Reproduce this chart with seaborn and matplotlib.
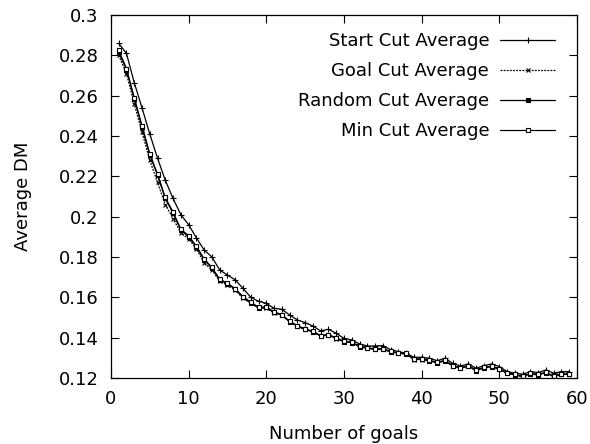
import matplotlib
matplotlib.use("Agg")
import matplotlib.pyplot as plt
import matplotlib.ticker as mticker
import seaborn as sns
import numpy as np

sns.set_style("ticks")
plt.rcParams["font.family"] = ["DejaVu Sans"]
plt.rcParams["text.color"] = "black"
plt.rcParams["axes.labelcolor"] = "black"

goals = list(range(1, 60))

start_cut = [0.286, 0.281, 0.2665, 0.254, 0.241, 0.229, 0.218, 0.209, 0.201, 0.196,
             0.1895, 0.1834, 0.180, 0.1735, 0.171, 0.1686, 0.1644, 0.160, 0.158, 0.157,
             0.1545, 0.154, 0.1512, 0.1487, 0.1474, 0.1457, 0.1433, 0.1441, 0.1421, 0.1396,
             0.1388, 0.1368, 0.1358, 0.1358, 0.136, 0.134, 0.133, 0.1322, 0.1302, 0.1302,
             0.1297, 0.1285, 0.1297, 0.1272, 0.1259, 0.1269, 0.1248, 0.126, 0.1269, 0.1256,
             0.1231, 0.1223, 0.1218, 0.1231, 0.1226, 0.1239, 0.1223, 0.1231, 0.1231]

goal_cut = [0.280, 0.271, 0.256, 0.242, 0.228, 0.217, 0.206, 0.199, 0.192, 0.189,
            0.184, 0.177, 0.1735, 0.168, 0.166, 0.1635, 0.1595, 0.157, 0.1545, 0.1545,
            0.1522, 0.151, 0.1478, 0.1455, 0.144, 0.1428, 0.1407, 0.1412, 0.1395, 0.138,
            0.1374, 0.1354, 0.1346, 0.1341, 0.1341, 0.1329, 0.1321, 0.1318, 0.1291, 0.1291,
            0.1284, 0.1274, 0.1284, 0.1258, 0.1247, 0.1258, 0.1235, 0.1249, 0.1255, 0.1242,
            0.1222, 0.1214, 0.1205, 0.1219, 0.1214, 0.1225, 0.1205, 0.1217, 0.1217]

random_cut = [0.2815, 0.273, 0.2585, 0.2445, 0.2306, 0.2206, 0.209, 0.2016, 0.1933, 0.190,
              0.185, 0.1785, 0.1744, 0.1686, 0.1666, 0.164, 0.160, 0.1573, 0.1548, 0.155,
              0.1525, 0.1512, 0.1479, 0.1457, 0.1441, 0.1429, 0.1408, 0.1413, 0.1396, 0.138,
              0.1375, 0.1355, 0.1347, 0.1342, 0.1342, 0.133, 0.1322, 0.1319, 0.1292, 0.1292,
              0.1285, 0.1275, 0.1285, 0.1259, 0.1248, 0.1259, 0.1236, 0.125, 0.1256, 0.1243,
              0.1223, 0.1215, 0.1206, 0.122, 0.1215, 0.1226, 0.1206, 0.1218, 0.1218]

min_cut = [0.2825, 0.2735, 0.259, 0.245, 0.2312, 0.221, 0.2095, 0.2022, 0.1938, 0.1905,
           0.1853, 0.179, 0.1748, 0.169, 0.1669, 0.1643, 0.1603, 0.1576, 0.155, 0.1552,
           0.1527, 0.1514, 0.1481, 0.1459, 0.1443, 0.1431, 0.141, 0.1415, 0.1398, 0.1382,
           0.1377, 0.1357, 0.1349, 0.1344, 0.1344, 0.1332, 0.1324, 0.1321, 0.1294, 0.1294,
           0.1287, 0.1277, 0.1287, 0.1261, 0.125, 0.1261, 0.1238, 0.1252, 0.1258, 0.1245,
           0.1225, 0.1217, 0.1208, 0.1222, 0.1217, 0.1228, 0.1208, 0.122, 0.122]

series = [
    ("Start Cut Average", start_cut, dict(marker="+", markersize=4, linestyle="-", mfc="black")),
    ("Goal Cut Average", goal_cut, dict(marker="x", markersize=3, linestyle=(0, (1.5, 1)), mfc="black")),
    ("Random Cut Average", random_cut, dict(marker="s", markersize=3, linestyle="-", mfc="black")),
    ("Min Cut Average", min_cut, dict(marker="s", markersize=3, linestyle="-", mfc="white")),
]

fig = plt.figure(figsize=(5.9, 4.44), dpi=100)
ax = fig.add_axes([0.188, 0.149, 0.79, 0.817])

for label, vals, style in series:
    sns.lineplot(x=goals, y=vals, ax=ax, color="black", linewidth=0.9,
                 mec="black", mew=0.8, label=label, **style)

ax.set_xlim(0, 60)
ax.set_ylim(0.12, 0.3)
ax.set_xticks(np.arange(0, 61, 10))
ax.set_yticks(np.arange(0.12, 0.301, 0.02))
ax.yaxis.set_major_formatter(mticker.FuncFormatter(lambda v, p: "%g" % round(v, 2)))
ax.tick_params(direction="in", top=True, right=True, length=6, width=0.8,
               labelsize=13, colors="black", pad=9)
for sp in ax.spines.values():
    sp.set_visible(True)
    sp.set_linewidth(0.9)
    sp.set_color("black")

ax.set_xlabel("Number of goals", fontsize=13, labelpad=12)
ax.set_ylabel("Average DM", fontsize=13, labelpad=19)

ax.legend(loc="upper right", frameon=False, markerfirst=False, fontsize=13,
          handlelength=3.05, labelspacing=0.66, bbox_to_anchor=(0.953, 0.9525),
          handletextpad=0.6, borderaxespad=0, borderpad=0)

fig.savefig("out.png", dpi=100, facecolor="white")
